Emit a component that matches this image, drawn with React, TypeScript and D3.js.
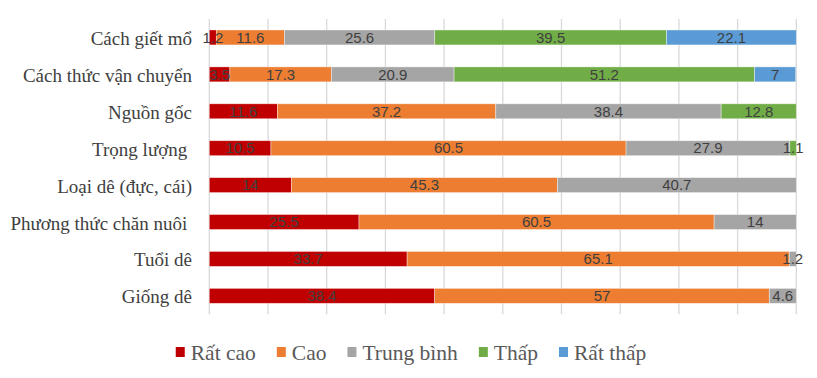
import React from "react";
import * as d3 from "d3";

const categories = [
  "Cách giết mổ",
  "Cách thức vận chuyển",
  "Nguồn gốc",
  "Trọng lượng ",
  "Loại dê (đực, cái)",
  "Phương thức chăn nuôi ",
  "Tuổi dê",
  "Giống dê",
];
const seriesNames = ["Rất cao", "Cao", "Trung bình", "Thấp", "Rất thấp"];
const ratCao = [1.2, 3.5, 11.6, 10.5, 14, 25.5, 33.7, 38.4];
const cao = [11.6, 17.3, 37.2, 60.5, 45.3, 60.5, 65.1, 57];
const trungBinh = [25.6, 20.9, 38.4, 27.9, 40.7, 14, 1.2, 4.6];
const thap = [39.5, 51.2, 12.8, 1.1, 0, 0, 0, 0];
const ratThap = [22.1, 7, 0, 0, 0, 0, 0, 0];
const xTicks = [0, 10, 20, 30, 40, 50, 60, 70, 80, 90, 100];
const colors = ["#C00000", "#ED7D31", "#A5A5A5", "#70AD47", "#5B9BD5"];

const W = 817;
const H = 378;
const M = { left: 209.3, right: W - 796.3, top: 19, bottom: H - 314.3 };

const serif = "'Liberation Serif', 'Times New Roman', serif";
const sans = "'Liberation Sans', Arial, sans-serif";

function measure(text: string, font: string): number {
  const c = document.createElement("canvas");
  const ctx = c.getContext("2d")!;
  ctx.font = font;
  return ctx.measureText(text).width;
}

export default function App() {
  const seriesValues = [ratCao, cao, trungBinh, thap, ratThap];
  const rows = categories.map((c, i) => {
    const r: any = { cat: c };
    seriesNames.forEach((s, j) => (r[s] = seriesValues[j][i]));
    return r;
  });
  const stacked = d3.stack<any>().keys(seriesNames)(rows);

  const x = d3.scaleLinear().domain([0, 100]).range([M.left, W - M.right]);
  const y = d3
    .scaleBand()
    .domain(categories)
    .range([M.top, H - M.bottom])
    .paddingInner(0.595)
    .paddingOuter(0.2975);

  // legend layout
  const legendFontSize = 21.5;
  const legendFont = `${legendFontSize}px 'Liberation Serif'`;
  const sq = 9;
  const sqGap = 6;
  const itemGap = 21;
  const widths = seriesNames.map((s) => measure(s, legendFont));
  const itemW = widths.map((w) => sq + sqGap + w);
  const totalW = d3.sum(itemW) + itemGap * (seriesNames.length - 1);
  const legendCenter = 411;
  let cursor = legendCenter - totalW / 2;
  const legendX = itemW.map((w) => {
    const p = cursor;
    cursor += w + itemGap;
    return p;
  });
  const legendY = 352;

  return (
    <svg
      width={W}
      height={H}
      style={{ position: "absolute", left: 0, top: 0, background: "#fff" }}
    >
      <rect width={W} height={H} fill="#fff" />
      {xTicks.map((t) => (
        <line
          key={t}
          x1={x(t)}
          x2={x(t)}
          y1={M.top}
          y2={H - M.bottom}
          stroke="#D9D9D9"
          strokeWidth={1.3}
        />
      ))}
      {stacked.map((s, j) => (
        <g key={s.key}>
          {s.map((d, i) =>
            d[1] - d[0] > 0 ? (
              <rect
                key={i}
                x={x(d[0])}
                y={y(categories[i])!}
                width={x(d[1]) - x(d[0])}
                height={y.bandwidth()}
                fill={colors[j]}
                stroke="#fff"
                strokeOpacity={0.5}
                strokeWidth={0.75}
              />
            ) : null
          )}
        </g>
      ))}
      {stacked.map((s, j) => (
        <g key={"l" + s.key}>
          {s.map((d, i) =>
            d[1] - d[0] > 0 ? (
              <text
                key={i}
                x={(x(d[0]) + x(d[1])) / 2}
                y={y(categories[i])! + y.bandwidth() / 2 + 5.3}
                textAnchor="middle"
                fontFamily={sans}
                fontSize={15}
                fill="#404040"
              >
                {String(seriesValues[j][i])}
              </text>
            ) : null
          )}
        </g>
      ))}
      {categories.map((c) => (
        <text
          key={c}
          x={192}
          y={y(c)! + y.bandwidth() / 2 + 7.5}
          textAnchor="end"
          fontFamily={serif}
          fontSize={19}
          fill="#404040"
          style={{ whiteSpace: "pre" }}
        >
          {c}
        </text>
      ))}
      {seriesNames.map((s, j) => (
        <g key={"lg" + s} transform={`translate(${legendX[j]},${legendY})`}>
          <rect x={0} y={-5} width={sq} height={sq + 1} fill={colors[j]} />
          <text
            x={sq + sqGap}
            y={7.5}
            fontFamily={serif}
            fontSize={legendFontSize}
            fill="#595959"
          >
            {s}
          </text>
        </g>
      ))}
    </svg>
  );
}
